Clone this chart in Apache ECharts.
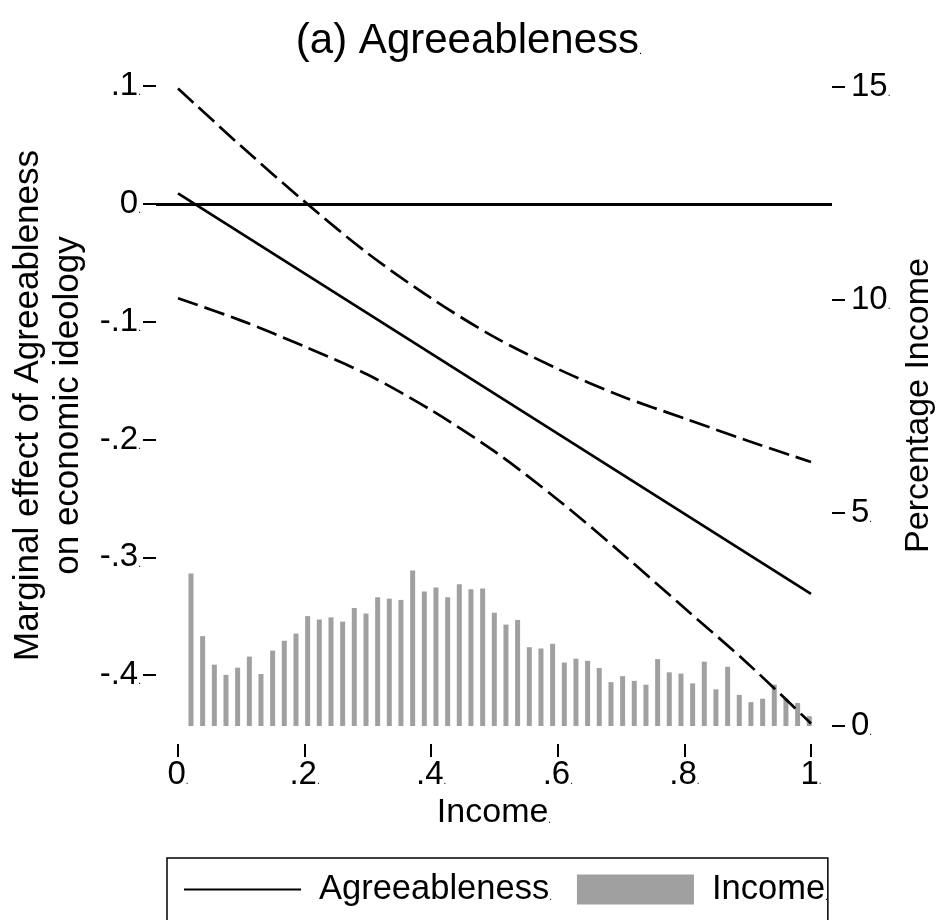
<!DOCTYPE html>
<html>
<head>
<meta charset="utf-8">
<script src="https://cdn.jsdelivr.net/npm/echarts@6/dist/echarts.min.js"></script>
<style>
  html, body { margin: 0; padding: 0; background: #fff; }
  #chart { width: 938px; height: 920px; }
</style>
</head>
<body>
<div id="chart"></div>
<script>
// Income distribution (percentage of respondents per income value)
const incomeX = [
  0.0205, 0.0389, 0.0574, 0.0758, 0.0942, 0.1127, 0.1311, 0.1495, 0.1679, 0.1864,
  0.2048, 0.2232, 0.2417, 0.2601, 0.2785, 0.2970, 0.3154, 0.3338, 0.3522, 0.3707,
  0.3891, 0.4075, 0.4260, 0.4444, 0.4628, 0.4813, 0.4997, 0.5181, 0.5365, 0.5550,
  0.5734, 0.5918, 0.6103, 0.6287, 0.6471, 0.6655, 0.6840, 0.7024, 0.7208, 0.7393,
  0.7577, 0.7761, 0.7946, 0.8130, 0.8314, 0.8498, 0.8683, 0.8867, 0.9051, 0.9236,
  0.9420, 0.9604, 0.9789, 0.9973
];
const incomePct = [
  3.58, 2.11, 1.44, 1.20, 1.37, 1.63, 1.22, 1.77, 2.00, 2.17,
  2.58, 2.50, 2.55, 2.45, 2.77, 2.64, 3.02, 2.99, 2.96, 3.65,
  3.16, 3.25, 3.02, 3.33, 3.21, 3.23, 2.66, 2.38, 2.49, 1.85,
  1.82, 1.93, 1.49, 1.58, 1.53, 1.36, 1.03, 1.17, 1.06, 0.97,
  1.57, 1.26, 1.23, 1.00, 1.51, 0.86, 1.39, 0.73, 0.56, 0.64,
  0.97, 0.64, 0.54, 0.23
];

// Marginal effect of Agreeableness and its confidence bounds
const effectX = [0, 1];
const effect = [0.009, -0.331];
const ciX = [0, 0.1, 0.2, 0.3, 0.4, 0.5, 0.6, 0.7, 0.8, 0.9, 1.0];
const upperCI = [0.098, 0.049, 0.002, -0.042, -0.080, -0.113, -0.140, -0.163, -0.182, -0.201, -0.219];
const lowerCI = [-0.080, -0.099, -0.121, -0.145, -0.175, -0.210, -0.251, -0.296, -0.343, -0.390, -0.441];

// Tick values
const xTicks = [0, 0.2, 0.4, 0.6, 0.8, 1];
const leftTicks = [-0.4, -0.3, -0.2, -0.1, 0, 0.1];
const rightTicks = [0, 5, 10, 15];

const FONT = 'Liberation Sans, Arial, sans-serif';

function stataNum(v) {
  let s = String(Math.round(v * 10) / 10);
  s = s.replace('0.', '.');
  return s;
}
const dotRich = {
  v: { fontSize: 33, fontFamily: FONT, color: '#000' },
  d: { fontSize: 10, fontFamily: FONT, color: '#000', verticalAlign: 'bottom', padding: [0, 0, 5, 0] }
};
const tickStyle = { show: true, length: 13, lineStyle: { color: '#000', width: 2 } };

const pair = (xs, ys) => xs.map((x, i) => [x, ys[i]]);

const chart = echarts.init(document.getElementById('chart'), null, { renderer: 'canvas' });
chart.setOption({
  backgroundColor: '#fff',
  animation: false,
  title: {
    text: '{t|(a) Agreeableness}{d|.}',
    left: 'center',
    top: 20,
    padding: 0,
    textStyle: {
      fontWeight: 'normal',
      rich: {
        t: { fontSize: 42, fontWeight: 'normal', fontFamily: FONT, color: '#000' },
        d: { fontSize: 11, fontWeight: 'normal', fontFamily: FONT, color: '#000', verticalAlign: 'bottom', padding: [0, 0, 6, 0] }
      }
    }
  },
  grid: {
    left: 156, right: 106, top: 67, bottom: 176,
    containLabel: false,
    outerBoundsMode: 'none'
  },
  legend: {
    left: 167,
    top: 858,
    orient: 'horizontal',
    padding: [14, 0, 40, 16],
    borderColor: '#000',
    borderWidth: 1.5,
    itemWidth: 117,
    itemHeight: 30,
    itemGap: 25,
    data: [
      { name: 'Agreeableness', itemStyle: { color: 'rgba(0,0,0,0)', opacity: 0 } },
      { name: 'Income', icon: 'rect' }
    ],
    formatter: name => '{s| }{n|' + name + '}{d|.}',
    textStyle: {
      color: '#000',
      rich: {
        s: { width: 13, fontSize: 34.5 },
        n: { fontSize: 34.5, fontFamily: FONT, color: '#000' },
        d: { fontSize: 10, fontFamily: FONT, color: '#000', verticalAlign: 'bottom', padding: [0, 0, 5, 0] }
      }
    }
  },
  xAxis: {
    type: 'value',
    min: -0.03476,
    max: 1.03318,
    name: '{n|Income}{d|.}',
    nameLocation: 'middle',
    nameGap: 39,
    nameTextStyle: {
      rich: {
        n: { fontSize: 34, fontFamily: FONT, color: '#000' },
        d: { fontSize: 10, fontFamily: FONT, color: '#000', verticalAlign: 'bottom', padding: [0, 0, 5, 0] }
      }
    },
    axisLine: { show: false, onZero: false },
    splitLine: { show: false },
    axisTick: Object.assign({ customValues: xTicks }, tickStyle),
    axisLabel: {
      customValues: xTicks,
      margin: 14,
      formatter: v => '{v|' + stataNum(v) + '}{d|.}',
      rich: dotRich
    }
  },
  yAxis: [
    {
      type: 'value',
      position: 'left',
      min: -0.45840,
      max: 0.11630,
      name: 'Marginal effect of Agreeableness\non economic ideology',
      nameLocation: 'middle',
      nameRotate: 90,
      nameGap: 62,
      nameTextStyle: { fontSize: 35, lineHeight: 40, fontFamily: FONT, color: '#000', align: 'center' },
      axisLine: { show: false, onZero: false },
      splitLine: { show: false },
      axisTick: Object.assign({ customValues: leftTicks }, tickStyle),
      axisLabel: {
        customValues: leftTicks,
        margin: 15,
        formatter: v => '{v|' + stataNum(v) + '}{d|.}',
        rich: dotRich
      }
    },
    {
      type: 'value',
      position: 'right',
      min: -0.42254,
      max: 15.4695,
      name: 'Percentage Income',
      nameLocation: 'middle',
      nameRotate: 90,
      nameGap: 70,
      nameTextStyle: { fontSize: 34, fontFamily: FONT, color: '#000' },
      axisLine: { show: false, onZero: false },
      splitLine: { show: false },
      axisTick: Object.assign({ customValues: rightTicks }, tickStyle),
      axisLabel: {
        customValues: rightTicks,
        margin: 19,
        formatter: v => '{v|' + v + '}{d|.}',
        rich: dotRich
      }
    }
  ],
  series: [
    {
      name: 'Income',
      type: 'bar',
      xAxisIndex: 0,
      yAxisIndex: 1,
      barWidth: 5,
      itemStyle: { color: '#a0a0a0' },
      data: pair(incomeX, incomePct),
      z: 1
    },
    {
      name: 'Agreeableness',
      type: 'line',
      yAxisIndex: 0,
      symbol: 'none',
      lineStyle: { color: '#000', width: 2.7 },
      itemStyle: { color: '#000' },
      data: pair(effectX, effect),
      markLine: {
        silent: true,
        symbol: 'none',
        label: { show: false },
        lineStyle: { color: '#000', width: 3, type: 'solid' },
        data: [{ yAxis: 0 }]
      },
      z: 3
    },
    {
      name: 'Upper bound',
      type: 'line',
      yAxisIndex: 0,
      symbol: 'none',
      smooth: 0.3,
      lineStyle: { color: '#000', width: 2.7, type: [21, 7] },
      data: pair(ciX, upperCI),
      z: 3
    },
    {
      name: 'Lower bound',
      type: 'line',
      yAxisIndex: 0,
      symbol: 'none',
      smooth: 0.3,
      lineStyle: { color: '#000', width: 2.7, type: [21, 7] },
      data: pair(ciX, lowerCI),
      z: 3
    }
  ]
});
</script>
</body>
</html>
